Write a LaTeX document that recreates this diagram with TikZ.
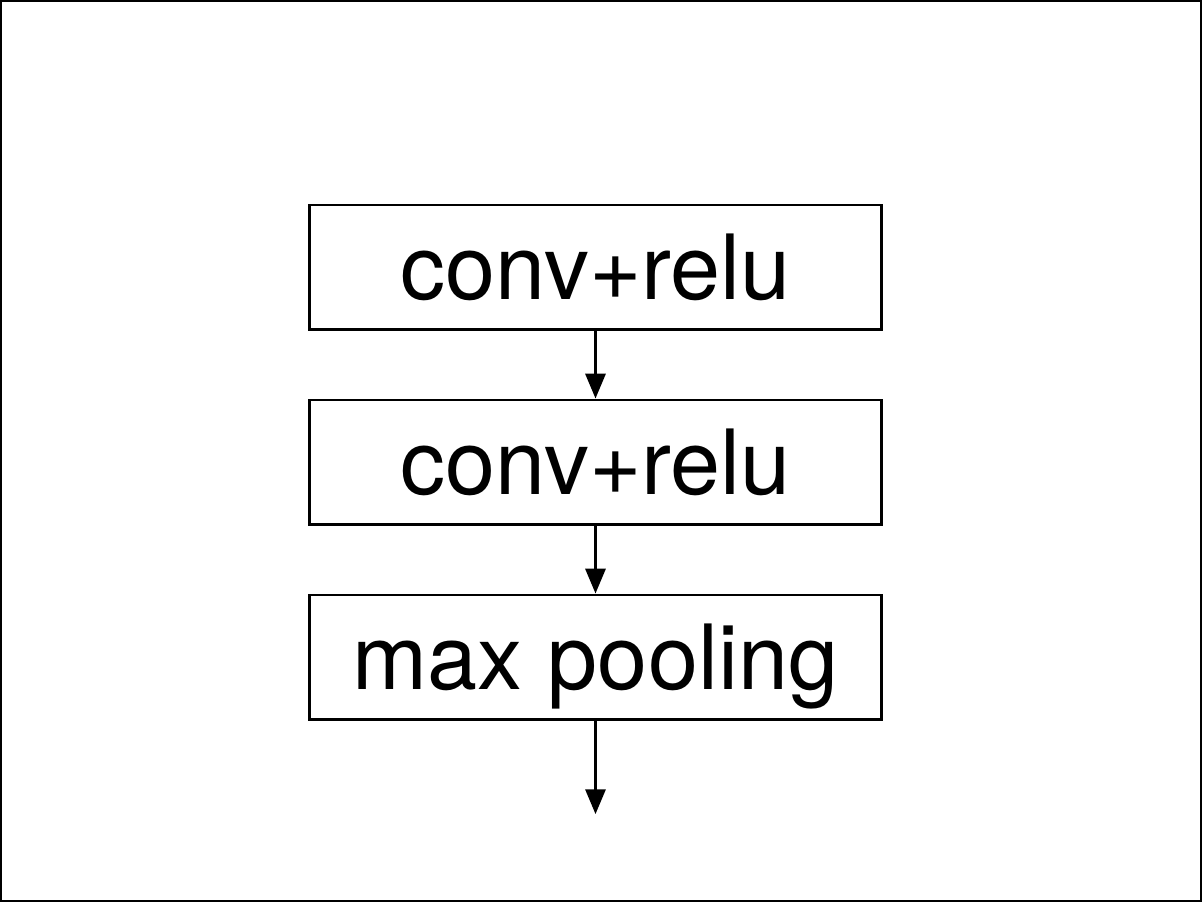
\documentclass[tikz,border=0pt]{standalone}
\usepackage{fontspec}
\setmainfont{TeX Gyre Heros}
\usetikzlibrary{positioning}
\usetikzlibrary{arrows.meta}

\begin{document}
\begin{tikzpicture}[x=0.025cm, y=-0.025cm, >={Triangle[width=0.5cm, length=0.62cm]},
    layer/.style={draw, line width=2.1pt, minimum width=14.275cm, minimum height=3.1cm, inner sep=0pt, text height=1.6cm, text depth=0cm, font=\fontsize{64}{77}\selectfont},
    flow/.style={->, line width=2.1pt}]
\useasboundingbox (0,0) rectangle (1202,902);
\draw[line width=0.8pt] (1,1) rectangle (1201,901);
\path
    node[layer] (conv1) at (595.5,267) {conv+relu}
    node[layer, below=1.7cm of conv1] (conv2) {conv+relu}
    node[layer, below=1.7cm of conv2] (pool) {max pooling};
\coordinate[below=2.34cm of pool.south] (out);
\draw[flow] (conv1) -- (conv2);
\draw[flow] (conv2) -- (pool);
\draw[flow] (pool) -- (out);
\end{tikzpicture}
\end{document}
